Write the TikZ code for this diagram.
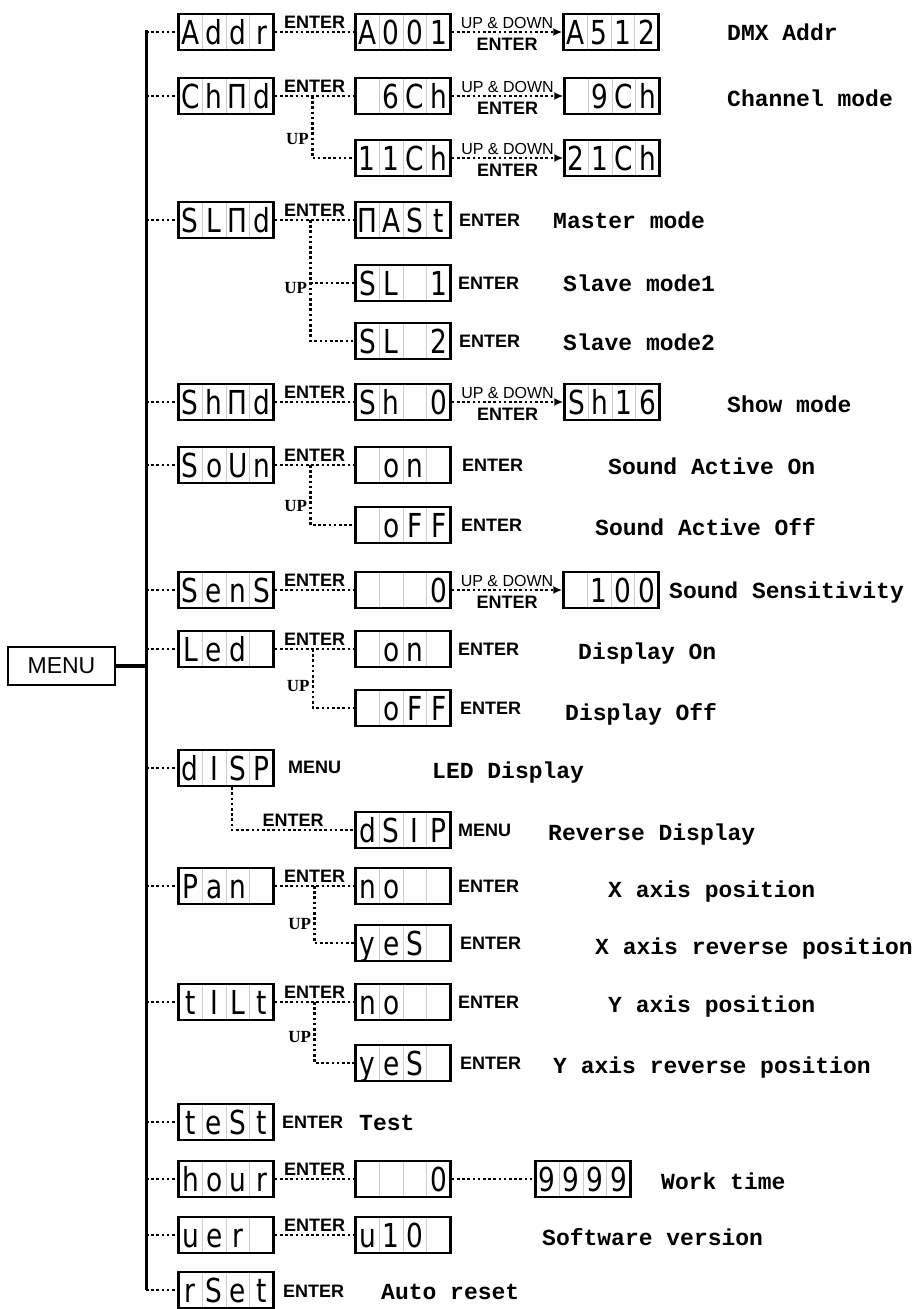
\documentclass[tikz,border=0pt]{standalone}
\usepackage{fontspec}
\usetikzlibrary{arrows.meta,calc}
\newfontfamily\segfont{DejaVu Sans}[FakeStretch=0.8]
\newfontfamily\keyfont{Liberation Sans}
\newfontfamily\descfont{Liberation Mono}
\newfontfamily\upfont{Liberation Serif}
\newcommand{\cells}[4]{\makebox[23.75pt]{#1}\makebox[23.75pt]{#2}\makebox[23.75pt]{#3}\makebox[23.75pt]{#4}}

\begin{document}
\begin{tikzpicture}[x=1pt, y=-1pt,
    lcd/.style={draw, line width=2.5pt, minimum width=95pt, minimum height=36pt,
        inner sep=0pt, text height=24pt, text depth=0pt,
        font=\segfont\fontsize{33}{33}\selectfont,
        path picture={\draw[black!20, line width=0.8pt]
            ([xshift=-23.75pt]path picture bounding box.north) -- ([xshift=-23.75pt]path picture bounding box.south)
            (path picture bounding box.north) -- (path picture bounding box.south)
            ([xshift=23.75pt]path picture bounding box.north) -- ([xshift=23.75pt]path picture bounding box.south);}},
    menubox/.style={draw, line width=1.3pt, minimum width=107pt, minimum height=38pt,
        font=\keyfont\fontsize{23}{23}\selectfont},
    dotline/.style={line width=2.8pt, dash pattern=on 2.6pt off 2.6pt},
    ptr/.style={-{Latex[length=9pt,width=8pt]}},
    keylab/.style={font=\keyfont\bfseries\fontsize{18}{18}\selectfont, inner sep=1pt},
    updown/.style={font=\keyfont\fontsize{16}{16}\selectfont, inner sep=1pt},
    uplabel/.style={font=\upfont\bfseries\fontsize{17}{17}\selectfont, inner sep=2pt},
    desctext/.style={font=\descfont\bfseries\fontsize{23}{23}\selectfont, anchor=base west, inner sep=0pt}]

    \useasboundingbox (0,0) rectangle (919,1309);

    \node[menubox] (menu) at (61.5,666) {MENU};
    \coordinate (trunktop) at (146,30);
    \coordinate (trunkbot) at (146,1290);
    \draw[line width=3pt] (trunktop) -- (trunkbot);
    \draw[line width=4pt] (menu.east) -- (menu.east -| trunktop);

    % first column
    \node[lcd] (addr) at (226,32) {\cells{A}{d}{d}{r}};
    \node[lcd] (chnd) at (226,96) {\cells{C}{h}{Π}{d}};
    \node[lcd] (slnd) at (226,220) {\cells{S}{L}{Π}{d}};
    \node[lcd] (shnd) at (226,402) {\cells{S}{h}{Π}{d}};
    \node[lcd] (soun) at (226,465) {\cells{S}{o}{U}{n}};
    \node[lcd] (sens) at (226,590) {\cells{S}{e}{n}{S}};
    \node[lcd] (led) at (226,649) {\cells{L}{e}{d}{}};
    \node[lcd] (disp) at (226,768) {\cells{d}{I}{S}{P}};
    \node[lcd] (pan) at (226,886) {\cells{P}{a}{n}{}};
    \node[lcd] (tilt) at (226,1002) {\cells{t}{I}{L}{t}};
    \node[lcd] (test) at (226,1122) {\cells{t}{e}{S}{t}};
    \node[lcd] (hour) at (226,1179) {\cells{h}{o}{u}{r}};
    \node[lcd] (ver) at (226,1235) {\cells{u}{e}{r}{}};
    \node[lcd] (rset) at (226,1290) {\cells{r}{S}{e}{t}};

    \draw[dotline] (addr.west -| trunktop) -- (addr.west);
    \draw[dotline] (chnd.west -| trunktop) -- (chnd.west);
    \draw[dotline] (slnd.west -| trunktop) -- (slnd.west);
    \draw[dotline] (shnd.west -| trunktop) -- (shnd.west);
    \draw[dotline] (soun.west -| trunktop) -- (soun.west);
    \draw[dotline] (sens.west -| trunktop) -- (sens.west);
    \draw[dotline] (led.west -| trunktop) -- (led.west);
    \draw[dotline] (disp.west -| trunktop) -- (disp.west);
    \draw[dotline] (pan.west -| trunktop) -- (pan.west);
    \draw[dotline] (tilt.west -| trunktop) -- (tilt.west);
    \draw[dotline] (test.west -| trunktop) -- (test.west);
    \draw[dotline] (hour.west -| trunktop) -- (hour.west);
    \draw[dotline] (ver.west -| trunktop) -- (ver.west);
    \draw[dotline] (rset.west -| trunktop) -- (rset.west);

    % DMX address
    \node[lcd] (addrA) at (403,32) {\cells{A}{0}{0}{1}};
    \node[lcd] (addrB) at (611,32) {\cells{A}{5}{1}{2}};
    \node[desctext] (addrT) at (727,40) {DMX Addr};
    \draw[dotline] (addr) -- (addrA) node[keylab, midway, above=1pt] {ENTER};
    \draw[dotline, ptr] (addrA) -- (addrB) node[updown, midway, above=1pt] {UP \& DOWN}
        node[keylab, midway, below=4pt] {ENTER};

    % channel mode
    \node[lcd] (chA) at (403,96) {\cells{}{6}{C}{h}};
    \node[lcd] (chB) at (612,96) {\cells{}{9}{C}{h}};
    \node[lcd] (chC) at (403,158) {\cells{1}{1}{C}{h}};
    \node[lcd] (chD) at (612,158) {\cells{2}{1}{C}{h}};
    \node[desctext] (chT) at (727,106) {Channel mode};
    \coordinate (chUp) at ($(chnd.east)!0.47!(chA.west)$);
    \draw[dotline] (chnd) -- (chA) node[keylab, midway, above=1pt] {ENTER};
    \draw[dotline] (chUp) |- (chC) node[uplabel, pos=0.35, left] {UP};
    \draw[dotline, ptr] (chA) -- (chB) node[updown, midway, above=1pt] {UP \& DOWN}
        node[keylab, midway, below=4pt] {ENTER};
    \draw[dotline, ptr] (chC) -- (chD) node[updown, midway, above=1pt] {UP \& DOWN}
        node[keylab, midway, below=4pt] {ENTER};

    % master / slave
    \node[lcd] (slA) at (403,220) {\cells{Π}{A}{S}{t}};
    \node[lcd] (slB) at (403,283) {\cells{S}{L}{}{1}};
    \node[lcd] (slC) at (403,341) {\cells{S}{L}{}{2}};
    \node[keylab, anchor=west] (slAk) at (458,220) {ENTER};
    \node[keylab, anchor=west] (slBk) at (457,283) {ENTER};
    \node[keylab, anchor=west] (slCk) at (458,341) {ENTER};
    \node[desctext] (slAt) at (553,228) {Master mode};
    \node[desctext] (slBt) at (563,291) {Slave mode1};
    \node[desctext] (slCt) at (563,350) {Slave mode2};
    \coordinate (slUp) at ($(slnd.east)!0.45!(slA.west)$);
    \draw[dotline] (slnd) -- (slA) node[keylab, midway, above=1pt] {ENTER};
    \draw[dotline] (slUp) |- (slB);
    \draw[dotline] (slUp) |- (slC) node[uplabel, pos=0.28, left] {UP};

    % show mode
    \node[lcd] (shA) at (403,402) {\cells{S}{h}{}{0}};
    \node[lcd] (shB) at (612,402) {\cells{S}{h}{1}{6}};
    \node[desctext] (shT) at (727,412) {Show mode};
    \draw[dotline] (shnd) -- (shA) node[keylab, midway, above=1pt] {ENTER};
    \draw[dotline, ptr] (shA) -- (shB) node[updown, midway, above=1pt] {UP \& DOWN}
        node[keylab, midway, below=4pt] {ENTER};

    % sound active
    \node[lcd] (soA) at (403,465) {\cells{}{o}{n}{}};
    \node[lcd] (soB) at (403,525) {\cells{}{o}{F}{F}};
    \node[keylab, anchor=west] (soAk) at (461,465) {ENTER};
    \node[keylab, anchor=west] (soBk) at (460,525) {ENTER};
    \node[desctext] (soAt) at (608,474) {Sound Active On};
    \node[desctext] (soBt) at (595,535) {Sound Active Off};
    \coordinate (soUp) at ($(soun.east)!0.45!(soA.west)$);
    \draw[dotline] (soun) -- (soA) node[keylab, midway, above=1pt] {ENTER};
    \draw[dotline] (soUp) |- (soB) node[uplabel, pos=0.34, left] {UP};

    % sensitivity
    \node[lcd] (seA) at (403,590) {\cells{}{}{}{0}};
    \node[lcd] (seB) at (611,590) {\cells{}{1}{0}{0}};
    \node[desctext] (seT) at (669,598) {Sound Sensitivity};
    \draw[dotline] (sens) -- (seA) node[keylab, midway, above=1pt] {ENTER};
    \draw[dotline, ptr] (seA) -- (seB) node[updown, midway, above=1pt] {UP \& DOWN}
        node[keylab, midway, below=4pt] {ENTER};

    % display on / off
    \node[lcd] (leA) at (403,649) {\cells{}{o}{n}{}};
    \node[lcd] (leB) at (403,708) {\cells{}{o}{F}{F}};
    \node[keylab, anchor=west] (leAk) at (457,649) {ENTER};
    \node[keylab, anchor=west] (leBk) at (459,708) {ENTER};
    \node[desctext] (leAt) at (578,659) {Display On};
    \node[desctext] (leBt) at (565,720) {Display Off};
    \coordinate (leUp) at ($(led.east)!0.48!(leA.west)$);
    \draw[dotline] (led) -- (leA) node[keylab, midway, above=1pt] {ENTER};
    \draw[dotline] (leUp) |- (leB) node[uplabel, pos=0.31, left] {UP};

    % led display
    \node[lcd] (diA) at (403,830) {\cells{d}{S}{I}{P}};
    \node[keylab, anchor=west] (diK) at (287,767) {MENU};
    \node[keylab, anchor=west] (diAk) at (457,830) {MENU};
    \node[desctext] (diT) at (432,778) {LED Display};
    \node[desctext] (diAt) at (548,840) {Reverse Display};
    \draw[dotline] ([xshift=6pt]disp.south) |- (diA) node[keylab, pos=0.75, above=1pt] {ENTER};

    % pan
    \node[lcd] (paA) at (403,886) {\cells{n}{o}{}{}};
    \node[lcd] (paB) at (403,943) {\cells{y}{e}{S}{}};
    \node[keylab, anchor=west] (paAk) at (457,886) {ENTER};
    \node[keylab, anchor=west] (paBk) at (459,943) {ENTER};
    \node[desctext] (paAt) at (608,897) {X axis position};
    \node[desctext] (paBt) at (595,954) {X axis reverse position};
    \coordinate (paUp) at ($(pan.east)!0.5!(paA.west)$);
    \draw[dotline] (pan) -- (paA) node[keylab, midway, above=1pt] {ENTER};
    \draw[dotline] (paUp) |- (paB) node[uplabel, pos=0.33, left] {UP};

    % tilt
    \node[lcd] (tiA) at (403,1002) {\cells{n}{o}{}{}};
    \node[lcd] (tiB) at (403,1063) {\cells{y}{e}{S}{}};
    \node[keylab, anchor=west] (tiAk) at (457,1002) {ENTER};
    \node[keylab, anchor=west] (tiBk) at (459,1063) {ENTER};
    \node[desctext] (tiAt) at (608,1012) {Y axis position};
    \node[desctext] (tiBt) at (553,1073) {Y axis reverse position};
    \coordinate (tiUp) at ($(tilt.east)!0.5!(tiA.west)$);
    \draw[dotline] (tilt) -- (tiA) node[keylab, midway, above=1pt] {ENTER};
    \draw[dotline] (tiUp) |- (tiB) node[uplabel, pos=0.29, left] {UP};

    % test
    \node[keylab, anchor=west] (teK) at (281,1122) {ENTER};
    \node[desctext] (teT) at (359,1130) {Test};

    % work time
    \node[lcd] (hoA) at (403,1179) {\cells{}{}{}{0}};
    \node[lcd] (hoB) at (583,1179) {\cells{9}{9}{9}{9}};
    \node[desctext] (hoT) at (661,1189) {Work time};
    \draw[dotline] (hour) -- (hoA) node[keylab, midway, above=1pt] {ENTER};
    \draw[dotline] (hoA) -- (hoB);

    % software version
    \node[lcd] (veA) at (403,1235) {\cells{u}{1}{0}{}};
    \node[desctext] (veT) at (542,1245) {Software version};
    \draw[dotline] (ver) -- (veA) node[keylab, midway, above=1pt] {ENTER};

    % auto reset
    \node[keylab, anchor=west] (rsK) at (282,1291) {ENTER};
    \node[desctext] (rsT) at (381,1299) {Auto reset};
\end{tikzpicture}
\end{document}
